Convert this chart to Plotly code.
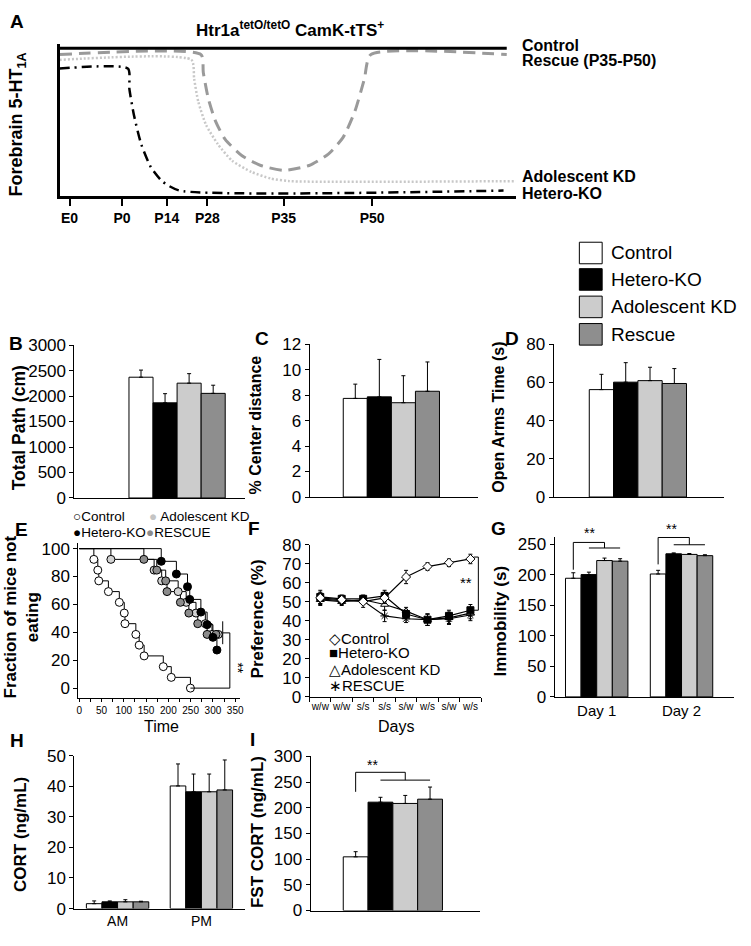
import plotly.graph_objects as go

W, H = 751, 946
FONT = "Liberation Sans, Arial, Helvetica, sans-serif"

# ---------------- data ----------------
groups = ["Control", "Hetero-KO", "Adolescent KD", "Rescue"]
bar_fill = ["#ffffff", "#000000", "#cccccc", "#8e8e8e"]

stage_labels = ["E0", "P0", "P14", "P28", "P35", "P50"]
stage_pos = [2.2, 13.7, 23.5, 32.4, 49.1, 68.5]
schem_control_x = [0, 98]
schem_control_y = [97.4, 97.4]
schem_rescue_x = [0, 31.0, 31.5, 32.6, 34.2, 36.3, 40.0, 44.1, 49.2, 54.7, 58.9, 62.1, 64.7, 66.8, 68.2, 98.0]
schem_rescue_y = [93.2, 93.2, 81.5, 64.3, 49.2, 37.4, 26.6, 20.2, 17.0, 20.2, 27.7, 38.5, 55.7, 77.2, 93.2, 93.2]
schem_adol_x = [0, 28.9, 29.5, 30.4, 32.1, 34.7, 37.8, 42.1, 46.3, 50.4, 100]
schem_adol_y = [89.7, 89.7, 77.2, 62.2, 47.0, 34.2, 23.4, 15.9, 11.6, 9.9, 9.9]
schem_hetero_x = [0, 15.0, 15.3, 16.3, 17.9, 20.0, 22.6, 26.3, 97.3]
schem_hetero_y = [84.0, 84.0, 70.8, 53.5, 34.2, 19.2, 9.5, 3.7, 3.7]

total_path = [2370, 1867, 2253, 2053]
total_path_err = [140, 180, 187, 160]
center_dist = [7.74, 7.86, 7.40, 8.30]
center_dist_err = [1.12, 2.94, 2.12, 2.30]
open_arms = [56.2, 60.1, 60.9, 59.4]
open_arms_err = [8.0, 10.2, 7.0, 7.8]

e_control_t = [32.7, 41.6, 43.8, 65.4, 89.9, 101, 102.6, 127, 134.5, 145.6, 188.6, 206.5, 249.5]
e_control_v = [92.3, 84.6, 76.9, 69.2, 61.5, 53.8, 46.2, 38.5, 30.8, 23.1, 15.4, 7.7, 0]
e_hetero_t = [184, 218, 243, 248, 273, 287, 300, 309]
e_hetero_v = [90.9, 81.8, 72.7, 63.6, 54.5, 45.5, 36.4, 27.3]
e_adol_t = [71, 168, 185, 222, 240, 262, 283, 298, 312]
e_adol_v = [92.3, 84.6, 76.9, 69.2, 61.5, 53.8, 46.2, 38.5, 38.5]
e_rescue_t = [145, 174, 194, 197, 227, 246, 266, 287, 307]
e_rescue_v = [92.3, 84.6, 76.9, 69.2, 61.5, 53.8, 46.2, 38.5, 38.5]
e_time_ticks = [0, 50, 100, 150, 200, 250, 300, 350]

days = ["w/w", "w/w", "s/s", "s/s", "s/w", "w/s", "s/w", "w/s"]
f_control = [52, 51, 50, 52, 63, 68.5, 70.5, 72.5]
f_control_err = [3, 2, 3, 3, 3.5, 2, 2, 2.5]
f_hetero = [52.5, 51.5, 51.5, 53, 43.5, 40.5, 42.5, 45.5]
f_hetero_err = [3.5, 2, 2, 3, 2, 3, 3, 3]
f_adol = [51, 50, 51, 48.5, 45, 40.5, 41.5, 44]
f_adol_err = [3, 2, 2, 3, 2, 3, 3, 3]
f_rescue = [51.5, 50.5, 50.5, 42.5, 41, 40.5, 41, 43]
f_rescue_err = [3, 2, 2, 3, 2, 3, 3, 3]

g_days = ["Day 1", "Day 2"]
g_day1 = [194, 200, 223, 222]
g_day1_err = [9, 4, 4, 4]
g_day2 = [201, 234, 233, 231]
g_day2_err = [6, 1.5, 1.5, 1.5]

h_times = ["AM", "PM"]
h_am = [1.6, 2.2, 2.2, 2.2]
h_am_err = [0.9, 0.3, 0.7, 0.2]
h_pm = [40.1, 38.2, 38.2, 38.8]
h_pm_err = [7.2, 5.8, 5.8, 9.8]

i_cort = [104.5, 210.9, 208.4, 216.7]
i_cort_err = [10, 9.5, 15.6, 23.6]

# ---------------- helpers ----------------
fig = go.Figure()


def dom_x(a, b):
    return [a / W, b / W]


def dom_y(top, bot):
    return [1 - bot / H, 1 - top / H]


_n = [0]


def new_axes(xpx, ypx, xr, yr, xopts=None, yopts=None):
    _n[0] += 1
    s = "" if _n[0] == 1 else str(_n[0])
    xn, yn = "x" + s, "y" + s
    xa = dict(domain=dom_x(*xpx), range=xr, anchor=yn, showgrid=False, zeroline=False,
              showline=True, linecolor="black", linewidth=1, ticks="", showticklabels=False,
              fixedrange=True, tickfont=dict(size=15, family=FONT, color="black"))
    ya = dict(domain=dom_y(*ypx), range=yr, anchor=xn, showgrid=False, zeroline=False,
              showline=True, linecolor="black", linewidth=1, ticks="outside", ticklen=4,
              tickcolor="black", fixedrange=True,
              tickfont=dict(size=17, family=FONT, color="black"))
    if xopts:
        xa.update(xopts)
    if yopts:
        ya.update(yopts)
    fig.update_layout(**{"xaxis" + s: xa, "yaxis" + s: ya})
    return xn, yn


def txt(x, y, text, size, bold=False, xanchor="center", angle=0, color="black"):
    fig.add_annotation(x=x / W, y=1 - y / H, xref="paper", yref="paper",
                       text=("<b>%s</b>" % text) if bold else text, showarrow=False,
                       font=dict(size=size, family=FONT, color=color),
                       xanchor=xanchor, yanchor="middle", textangle=angle)


def seg(xn, yn, x0, y0, x1, y1, width=1):
    fig.add_shape(type="line", xref=xn, yref=yn, x0=x0, y0=y0, x1=x1, y1=y1,
                  line=dict(color="black", width=width))


def bar_panel(xpx, ypx, n_cat, c0_px, unit_px, w, yrange, ydtick, values, errs,
              xlabels=None, xlabel_size=15):
    xr = [(xpx[0] - c0_px) / unit_px, (xpx[1] - c0_px) / unit_px]
    xopts = {}
    if xlabels:
        xopts = dict(tickmode="array", tickvals=list(range(n_cat)), ticktext=xlabels,
                     showticklabels=True,
                     tickfont=dict(size=xlabel_size, family=FONT, color="black"))
    xn, yn = new_axes(xpx, ypx, xr, yrange, xopts, dict(tick0=0, dtick=ydtick))
    for i in range(4):
        xs = [c + (i - 1.5) * w for c in range(n_cat)]
        fig.add_trace(go.Bar(
            x=xs, y=values[i], width=w, xaxis=xn, yaxis=yn, showlegend=False,
            marker=dict(color=bar_fill[i], line=dict(color="black", width=1)),
            error_y=dict(type="data", array=errs[i], arrayminus=[0] * n_cat,
                         symmetric=False, color="black", thickness=1, width=2)))
    return xn, yn, w


# ---------------- Panel A ----------------
xa_, ya_ = new_axes((58, 518), (36, 191), [0, 100], [0, 100],
                    dict(linewidth=3, tickmode="array", tickvals=stage_pos,
                         ticktext=["<b>%s</b>" % s for s in stage_labels],
                         showticklabels=True, ticks="outside", ticklen=7, tickwidth=2,
                         tickcolor="black",
                         tickfont=dict(size=14, family=FONT, color="black")),
                    dict(linewidth=3, ticks="", showticklabels=False))
fig.add_trace(go.Scatter(x=schem_adol_x, y=schem_adol_y, mode="lines", xaxis=xa_, yaxis=ya_,
                         line=dict(color="#c8c8c8", width=2.5, dash="2px,2px", shape="spline",
                                   smoothing=0.6), showlegend=False))
fig.add_trace(go.Scatter(x=schem_rescue_x, y=schem_rescue_y, mode="lines", xaxis=xa_, yaxis=ya_,
                         line=dict(color="#9a9a9a", width=3, dash="12px,7px", shape="spline",
                                   smoothing=0.6), showlegend=False))
fig.add_trace(go.Scatter(x=schem_hetero_x, y=schem_hetero_y, mode="lines", xaxis=xa_, yaxis=ya_,
                         line=dict(color="black", width=2.5, dash="10px,5px,2px,5px",
                                   shape="spline", smoothing=0.6), showlegend=False))
fig.add_trace(go.Scatter(x=schem_control_x, y=schem_control_y, mode="lines", xaxis=xa_,
                         yaxis=ya_, line=dict(color="black", width=3), showlegend=False))

txt(15, 13, "A", 19, bold=True)
txt(290, 20, "Htr1a<sup>tetO/tetO</sup> CamK-tTS<sup>+</sup>", 17, bold=True)
txt(16, 118, "Forebrain 5-HT<sub>1A</sub>", 18, bold=True, angle=-90)
txt(522, 37, "Control", 16, bold=True, xanchor="left")
txt(522, 53, "Rescue (P35-P50)", 16, bold=True, xanchor="left")
txt(522, 171, "Adolescent KD", 16, bold=True, xanchor="left")
txt(522, 188, "Hetero-KO", 16, bold=True, xanchor="left")

# ---------------- legend (top right) ----------------
leg_y = [249, 276, 304, 332]
for i, g in enumerate(groups):
    fig.add_shape(type="rect", xref="paper", yref="paper",
                  x0=582 / W, x1=605 / W, y0=1 - (leg_y[i] + 11) / H, y1=1 - (leg_y[i] - 11) / H,
                  fillcolor=bar_fill[i], line=dict(color="black", width=1))
    txt(612, leg_y[i], g, 19, xanchor="left")

# ---------------- Panels B, C, D ----------------
bar_panel((73, 245), (343, 499), 1, 176.5, 97, 0.25, [0, 3000], 500,
          [[v] for v in total_path], [[e] for e in total_path_err])
bar_panel((310, 480), (342, 498), 1, 392.5, 97, 0.25, [0, 12], 2,
          [[v] for v in center_dist], [[e] for e in center_dist_err])
bar_panel((556, 728), (342, 498), 1, 641, 98, 0.25, [0, 80], 20,
          [[v] for v in open_arms], [[e] for e in open_arms_err])
txt(14, 341, "B", 19, bold=True)
txt(262, 336, "C", 19, bold=True)
txt(514, 336, "D", 19, bold=True)
txt(18, 427, "Total Path (cm)", 17.5, bold=True, angle=-90)
txt(256, 424, "% Center distance", 16, bold=True, angle=-90)
txt(501, 416, "Open Arms Time (s)", 16, bold=True, angle=-90)

# ---------------- Panel E ----------------
xe, ye = new_axes((77, 240), (545, 703), [-2, 361], [-7, 104],
                  dict(tickmode="array", tickvals=e_time_ticks,
                       ticktext=[str(t) for t in e_time_ticks], showticklabels=True,
                       ticks="outside", ticklen=3, tickcolor="black",
                       tickfont=dict(size=10, family=FONT, color="black"),
                       minor=dict(ticks="outside", tick0=0, dtick=25, ticklen=3,
                                  tickcolor="black", showgrid=False)),
                  dict(tick0=0, dtick=20))
e_sets = [
    (e_adol_t, e_adol_v, "#d2d2d2"),
    (e_rescue_t, e_rescue_v, "#8c8c8c"),
    (e_hetero_t, e_hetero_v, "#000000"),
    (e_control_t, e_control_v, "#ffffff"),
]
for t, v, col in e_sets:
    fig.add_trace(go.Scatter(x=[0] + t, y=[100] + v, mode="lines", xaxis=xe, yaxis=ye,
                             line=dict(color="black", width=1, shape="hv"), showlegend=False))
for t, v, col in e_sets:
    fig.add_trace(go.Scatter(x=t, y=v, mode="markers", xaxis=xe, yaxis=ye, showlegend=False,
                             marker=dict(symbol="circle", size=8, color=col,
                                         line=dict(color="black", width=1))))
seg(xe, ye, e_control_t[-1], 0, 338, 0)
seg(xe, ye, 338, 0, 338, 39.6)
seg(xe, ye, 338, 39.6, 322, 39.6)
seg(xe, ye, 322, 31.5, 322, 47.9)
txt(238, 672, "**", 14, angle=90)
txt(20, 531, "E", 19, bold=True)
txt(70, 518, "○Control", 13.5, xanchor="left")
txt(146, 518, "<span style='color:#c4c4c4'>●</span> Adolescent KD", 13.5, xanchor="left")
txt(70, 534, "●Hetero-KO", 13.5, xanchor="left")
txt(143, 534, "<span style='color:#8c8c8c'>●</span>RESCUE", 13.5, xanchor="left")
txt(20, 620, "Fraction of mice not<br>eating", 17, bold=True, angle=-90)
txt(161, 732, "Time", 16)

# ---------------- Panel F ----------------
xf, yf = new_axes((310, 483), (546.7, 701.7), [-0.5, 7.5], [0, 80],
                  dict(tickmode="array", tickvals=list(range(len(days))), ticktext=days,
                       showticklabels=True, ticks="",
                       tickfont=dict(size=10, family=FONT, color="black"),
                       minor=dict(ticks="outside", tick0=-0.5, dtick=1, ticklen=4,
                                  tickcolor="black", showgrid=False)),
                  dict(tick0=0, dtick=10))
f_sets = [
    (f_rescue, f_rescue_err, dict(symbol="asterisk-open", size=7, color="black",
                                  line=dict(color="black", width=1))),
    (f_adol, f_adol_err, dict(symbol="triangle-up", size=7, color="white",
                              line=dict(color="black", width=1))),
    (f_hetero, f_hetero_err, dict(symbol="square", size=7, color="black",
                                  line=dict(color="black", width=1))),
    (f_control, f_control_err, dict(symbol="diamond", size=7, color="white",
                                    line=dict(color="black", width=1))),
]
for vals, errs, mk in f_sets:
    fig.add_trace(go.Scatter(x=list(range(len(days))), y=vals, mode="lines+markers",
                             xaxis=xf, yaxis=yf, showlegend=False,
                             line=dict(color="black", width=1.2), marker=mk,
                             error_y=dict(type="data", array=errs, color="black",
                                          thickness=1, width=2)))
seg(xf, yf, 7.37, 45.5, 7.37, 73.5)
seg(xf, yf, 7.37, 73.5, 7.15, 73.5)
seg(xf, yf, 7.37, 45.5, 7.15, 45.5)
txt(468, 585, "**", 15)
txt(254, 530, "F", 19, bold=True)
txt(328, 642, "◇Control", 15, xanchor="left")
txt(328, 657, "■Hetero-KO", 15, xanchor="left")
txt(328, 674, "△Adolescent KD", 15, xanchor="left")
txt(328, 690, "∗RESCUE", 15, xanchor="left")
txt(258, 622, "Preference (%)", 17, bold=True, angle=-90)
txt(397, 732, "Days", 16)

# ---------------- Panel G ----------------
xg, yg, wg = bar_panel((557, 738), (538.5, 702), 2, 599.5, 85.5, 0.184, [0, 262], 50,
                       [[g_day1[i], g_day2[i]] for i in range(4)],
                       [[g_day1_err[i], g_day2_err[i]] for i in range(4)],
                       xlabels=g_days, xlabel_size=15)
for c, (ystart, yup, ylow) in enumerate([(208, 252.6, 243.5), (216.7, 260.7, 248.8)]):
    xc, xh, xr_, xm = c - 1.5 * wg, c - 0.5 * wg, c + 1.5 * wg, c + 0.5 * wg
    seg(xg, yg, xc, ystart, xc, yup)
    seg(xg, yg, xc, yup, xm, yup)
    seg(xg, yg, xm, yup, xm, ylow)
    seg(xg, yg, xh, ylow, xr_, ylow)
txt(592, 535, "**", 14)
txt(675, 531, "**", 14)
txt(500, 530, "G", 19, bold=True)
txt(502, 624, "Immobility (s)", 17, bold=True, angle=-90)

# ---------------- Panel H ----------------
bar_panel((73, 245), (762, 918), 2, 116.5, 84.5, 0.186, [0, 50], 10,
          [[h_am[i], h_pm[i]] for i in range(4)],
          [[h_am_err[i], h_pm_err[i]] for i in range(4)],
          xlabels=h_times, xlabel_size=14)
txt(15, 746, "H", 19, bold=True)
txt(18, 842, "CORT (ng/mL)", 17, bold=True, angle=-90)

# ---------------- Panel I ----------------
xi, yi, wi = bar_panel((311, 482), (762.7, 920), 1, 394, 100, 0.25, [0, 300], 50,
                       [[v] for v in i_cort], [[e] for e in i_cort_err])
seg(xi, yi, -1.5 * wi, 231, -1.5 * wi, 269)
seg(xi, yi, -1.5 * wi, 269, 0.5 * wi, 269)
seg(xi, yi, 0.5 * wi, 269, 0.5 * wi, 253.8)
seg(xi, yi, -0.5 * wi, 253.8, 1.5 * wi, 253.8)
txt(373, 772, "**", 14)
txt(253, 745, "I", 19, bold=True)
txt(257, 840, "FST CORT (ng/mL)", 17, bold=True, angle=-90)

fig.update_layout(width=W, height=H, margin=dict(l=0, r=0, t=0, b=0),
                  paper_bgcolor="white", plot_bgcolor="white", showlegend=False,
                  barmode="overlay", font=dict(family=FONT, color="black"))

fig.write_html("out.html", include_plotlyjs=True, config={"displayModeBar": False},
               post_script="document.body.style.margin='0px';")
